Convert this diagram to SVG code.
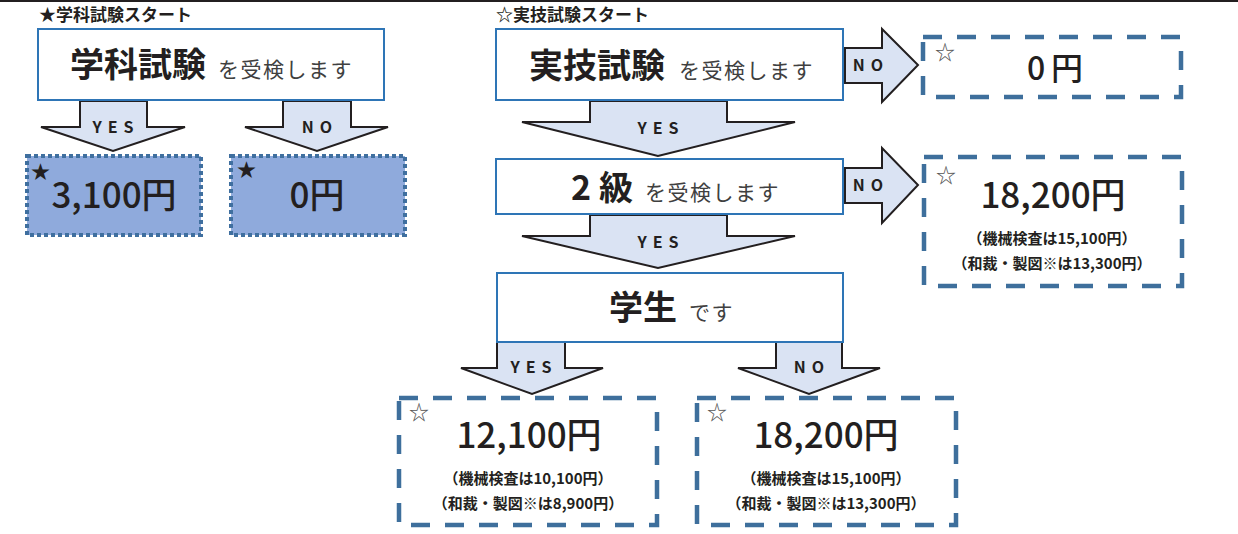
<svg xmlns="http://www.w3.org/2000/svg" width="1238" height="534" viewBox="0 0 1238 534">
<style>
text{font-family:"Noto Sans CJK JP","Noto Sans",sans-serif;fill:#231f20}
.hd{font-size:17px;font-weight:700}
.big{font-size:34px;font-weight:700}
.sub{font-size:21px;fill:#404040;letter-spacing:1.5px}
.lbl{font-size:16px;font-weight:700;letter-spacing:6px}
.num{font-size:35px;font-weight:500}
.sm{font-size:15px;font-weight:700}
.box{fill:#fff;stroke:#2e75b6;stroke-width:2}
.arr{fill:#dae3f3;stroke:#231f20;stroke-width:2;stroke-linejoin:miter}
.dot{fill:#8faadc;stroke:#3f6f9f;stroke-width:4;stroke-dasharray:4 3}
.dash{fill:#fff;stroke:#3e6f9c;stroke-width:4.5;stroke-dasharray:19 15}
.star{font-size:19px;fill:#231f20}
.wstar{font-size:20px;fill:#555}
</style>
<line x1="0" y1="1" x2="1238" y2="1" stroke="#231f20" stroke-width="2"/>
<text class="hd" x="39" y="21">★学科試験スタート</text>
<text class="hd" x="496" y="21">☆実技試験スタート</text>
<g id="connectors">
<g><polygon class="arr" points="80,101 147,101 147,127 185,127 113,151 41,127 80,127"/><text class="lbl" x="116" y="133" text-anchor="middle">YES</text></g>
<g><polygon class="arr" points="283,101 351,101 351,127 388,127 317,151 245,127 283,127"/><text class="lbl" x="320" y="133" text-anchor="middle">NO</text></g>
<g><polygon class="arr" points="590,101 727,101 727,122 795,122 658,156 522,122 590,122"/><text class="lbl" x="661" y="134" text-anchor="middle">YES</text></g>
<g><polygon class="arr" points="590,215 727,215 727,236 795,236 658,268 522,236 590,236"/><text class="lbl" x="661" y="248" text-anchor="middle">YES</text></g>
<g><polygon class="arr" points="497,342 565,342 565,368 603,368 532,394 461,368 497,368"/><text class="lbl" x="534" y="373" text-anchor="middle">YES</text></g>
<g><polygon class="arr" points="776,342 842,342 842,368 880,368 809,394 738,368 776,368"/><text class="lbl" x="812" y="373" text-anchor="middle">NO</text></g>
<g><polygon class="arr" points="845,48 882,48 882,29 918,65 882,102 882,83 845,83"/><text class="lbl" x="871" y="71" text-anchor="middle">NO</text></g>
<g><polygon class="arr" points="845,168 882,168 882,148 918,185 882,223 882,203 845,203"/><text class="lbl" x="871" y="191" text-anchor="middle">NO</text></g>
</g>
<g id="gakka">
<rect class="box" x="38" y="29" width="346" height="71"/>
<text x="70" y="77"><tspan class="big">学科試験</tspan><tspan class="sub" dx="12">を受検します</tspan></text>
</g>
<g id="gakka-yes">
<rect class="dot" x="27" y="156" width="174" height="79"/>
<text class="star" x="31" y="179">★</text>
<text class="num" x="114" y="208" text-anchor="middle">3,100円</text>
</g>
<g id="gakka-no">
<rect class="dot" x="231" y="156" width="174" height="79"/>
<text class="star" x="237" y="177">★</text>
<text class="num" x="317" y="208" text-anchor="middle">0円</text>
</g>
<g id="jitsugi">
<rect class="box" x="496" y="29" width="347" height="71"/>
<text x="529" y="78"><tspan class="big">実技試験</tspan><tspan class="sub" dx="14">を受検します</tspan></text>
</g>
<g id="jitsugi-no">
<rect class="dash" x="923" y="37" width="258" height="60"/>
<text class="wstar" x="935" y="60">☆</text>
<text class="num" x="1058" y="80" text-anchor="middle" style="font-size:32px;letter-spacing:6px">0円</text>
</g>
<g id="kyu2">
<rect class="box" x="496" y="159" width="347" height="55"/>
<text x="571" y="200"><tspan class="big">2</tspan><tspan class="big" dx="8">級</tspan><tspan class="sub" dx="12">を受検します</tspan></text>
</g>
<g id="kyu2-no">
<rect class="dash" x="924" y="157" width="258" height="129"/>
<text class="wstar" x="936" y="183">☆</text>
<text class="num" x="1053" y="208" text-anchor="middle">18,200円</text>
<text class="sm" x="1052" y="244" text-anchor="middle">（機械検査は15,100円）</text>
<text class="sm" x="1052" y="269" text-anchor="middle">（和裁・製図※は13,300円）</text>
</g>
<g id="gakusei">
<rect class="box" x="497" y="273" width="346" height="69"/>
<text x="609" y="320"><tspan class="big">学生</tspan><tspan class="sub" dx="12">です</tspan></text>
</g>
<g id="gakusei-yes">
<rect class="dash" x="399" y="398" width="258" height="127"/>
<text class="wstar" x="409" y="420">☆</text>
<text class="num" x="529" y="448" text-anchor="middle">12,100円</text>
<text class="sm" x="528" y="484" text-anchor="middle">（機械検査は10,100円）</text>
<text class="sm" x="528" y="509" text-anchor="middle">（和裁・製図※は8,900円）</text>
</g>
<g id="gakusei-no">
<rect class="dash" x="697" y="398" width="259" height="127"/>
<text class="wstar" x="707" y="420">☆</text>
<text class="num" x="826" y="448" text-anchor="middle">18,200円</text>
<text class="sm" x="826" y="484" text-anchor="middle">（機械検査は15,100円）</text>
<text class="sm" x="826" y="509" text-anchor="middle">（和裁・製図※は13,300円）</text>
</g>
</svg>
